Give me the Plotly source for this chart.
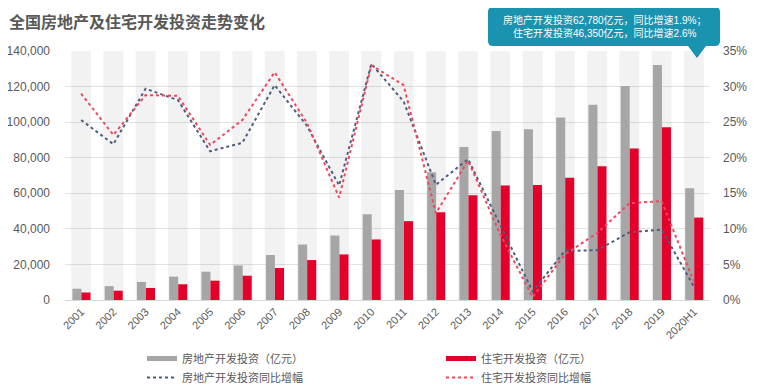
import plotly.graph_objects as go

years = ["2001", "2002", "2003", "2004", "2005", "2006", "2007", "2008", "2009", "2010",
         "2011", "2012", "2013", "2014", "2015", "2016", "2017", "2018", "2019", "2020H1"]
realestate_inv = [6344, 7791, 10154, 13158, 15909, 19423, 25289, 31203, 36242, 48259,
                  61797, 71804, 86013, 95036, 95979, 102581, 109799, 120264, 132194, 62780]
residential_inv = [4217, 5228, 6777, 8837, 10861, 13638, 18005, 22441, 25614, 34038,
                   44320, 49374, 58951, 64352, 64595, 68704, 75148, 85192, 97071, 46350]
realestate_yoy = [0.253, 0.219, 0.297, 0.281, 0.209, 0.221, 0.302, 0.245, 0.161, 0.332,
                  0.279, 0.162, 0.198, 0.105, 0.012, 0.069, 0.070, 0.095, 0.099, 0.019]
residential_yoy = [0.290, 0.232, 0.288, 0.287, 0.218, 0.253, 0.320, 0.249, 0.144, 0.330,
                   0.302, 0.122, 0.196, 0.092, 0.004, 0.064, 0.094, 0.136, 0.139, 0.026]
band_height = [140000] * len(years)

title = "全国房地产及住宅开发投资走势变化"
names = ["房地产开发投资（亿元）", "住宅开发投资（亿元）", "房地产开发投资同比增幅", "住宅开发投资同比增幅"]
callout = "房地产开发投资62,780亿元，同比增速1.9%；<br>住宅开发投资46,350亿元，同比增速2.6%"

FONT = "Liberation Sans, Noto Sans CJK SC, sans-serif"
GREY_BAR = "#a6a6a6"
RED_BAR = "#e4002b"
BLUE_LINE = "#4e5c7e"
RED_LINE = "#f0475e"
TEXT = "#595959"
TEAL = "#1a93b1"

OFF = 8  # page body margin
W, H = 760 - OFF, 390 - OFF
L, R, T, B = 57, 50, 43, 90
PW, PH = W - L - R, H - T - B


def fx(px):  # screen px -> paper fraction
    return (px - OFF - L) / PW


def fy(py):
    return (H - B - (py - OFF)) / PH


fig = go.Figure()
fig.add_trace(go.Bar(x=years, y=band_height, marker=dict(color="rgba(0,0,0,0.05)", line_width=0),
                     width=0.62, offset=-0.31, showlegend=False, hoverinfo="skip"))
fig.add_trace(go.Bar(x=years, y=realestate_inv, marker=dict(color=GREY_BAR, line_width=0),
                     width=0.28, offset=-0.27, showlegend=False, name=names[0]))
fig.add_trace(go.Bar(x=years, y=residential_inv, marker=dict(color=RED_BAR, line_width=0),
                     width=0.28, offset=0.01, showlegend=False, name=names[1]))
fig.add_trace(go.Scatter(x=years, y=realestate_yoy, yaxis="y2", mode="lines",
                         line=dict(color=BLUE_LINE, width=2, dash="dot"), showlegend=False, name=names[2]))
fig.add_trace(go.Scatter(x=years, y=residential_yoy, yaxis="y2", mode="lines",
                         line=dict(color=RED_LINE, width=2, dash="dot"), showlegend=False, name=names[3]))

# legend entries
for nm, col, dash, wd in [(names[0], GREY_BAR, "solid", 5), (names[1], RED_BAR, "solid", 5),
                          (names[2], BLUE_LINE, "dot", 2), (names[3], RED_LINE, "dot", 2)]:
    fig.add_trace(go.Scatter(x=[None], y=[None], mode="lines", name=nm,
                             line=dict(color=col, width=wd, dash=dash), yaxis="y2"))

# callout box (screen pixel geometry)
x0, x1, y0, y1 = 488, 720, 7, 46
r = 5
tip_x, tip_y = 697, 58
bx0, bx1 = 688, 706
path = (
    f"M {fx(x0 + r)},{fy(y0)} L {fx(x1 - r)},{fy(y0)} "
    f"Q {fx(x1)},{fy(y0)} {fx(x1)},{fy(y0 + r)} "
    f"L {fx(x1)},{fy(y1 - r)} Q {fx(x1)},{fy(y1)} {fx(x1 - r)},{fy(y1)} "
    f"L {fx(bx1)},{fy(y1)} L {fx(tip_x)},{fy(tip_y)} L {fx(bx0)},{fy(y1)} "
    f"L {fx(x0 + r)},{fy(y1)} Q {fx(x0)},{fy(y1)} {fx(x0)},{fy(y1 - r)} "
    f"L {fx(x0)},{fy(y0 + r)} Q {fx(x0)},{fy(y0)} {fx(x0 + r)},{fy(y0)} Z"
)
fig.add_shape(type="path", path=path, xref="paper", yref="paper",
              fillcolor=TEAL, line=dict(width=0), layer="above")
fig.add_annotation(text=callout, xref="paper", yref="paper", x=fx((x0 + x1) / 2), y=fy((y0 + y1) / 2),
                   xanchor="center", yanchor="middle",
                   showarrow=False, font=dict(family=FONT, size=10, color="white"), align="center")

fig.update_layout(
    width=W, height=H,
    margin=dict(l=L, r=R, t=T, b=B, autoexpand=False),
    paper_bgcolor="white", plot_bgcolor="white",
    barmode="overlay",
    font=dict(family=FONT, color=TEXT, size=12),
    title=dict(text=f"<b>{title}</b>", x=1 / W, xref="container", xanchor="left",
               y=1 - 14 / H, yref="container", yanchor="middle",
               font=dict(family=FONT, size=16, color=TEXT)),
    xaxis=dict(type="category", tickangle=-45, tickfont=dict(size=11, color=TEXT),
               showline=True, linecolor="#d9d9d9", linewidth=1, ticks="", showgrid=False,
               range=[-0.5, len(years) - 0.5], automargin=False),
    yaxis=dict(range=[0, 140000], dtick=20000, tickformat=",", showgrid=True,
               gridcolor="#e3e3e3", gridwidth=1, zeroline=False, ticklabelstandoff=14,
               tickfont=dict(size=12, color=TEXT), automargin=False),
    yaxis2=dict(range=[0, 0.35], dtick=0.05, tickformat=".0%", overlaying="y", side="right",
                showgrid=False, zeroline=False, ticklabelstandoff=12,
                tickfont=dict(size=12, color=TEXT), automargin=False),
    legend=dict(orientation="h", x=fx(142), y=fy(344), xanchor="left", yanchor="top",
                entrywidth=254, itemwidth=30, font=dict(size=11, color=TEXT),
                bgcolor="rgba(0,0,0,0)", tracegroupgap=0),
    showlegend=True,
)

fig.write_html("out.html")
